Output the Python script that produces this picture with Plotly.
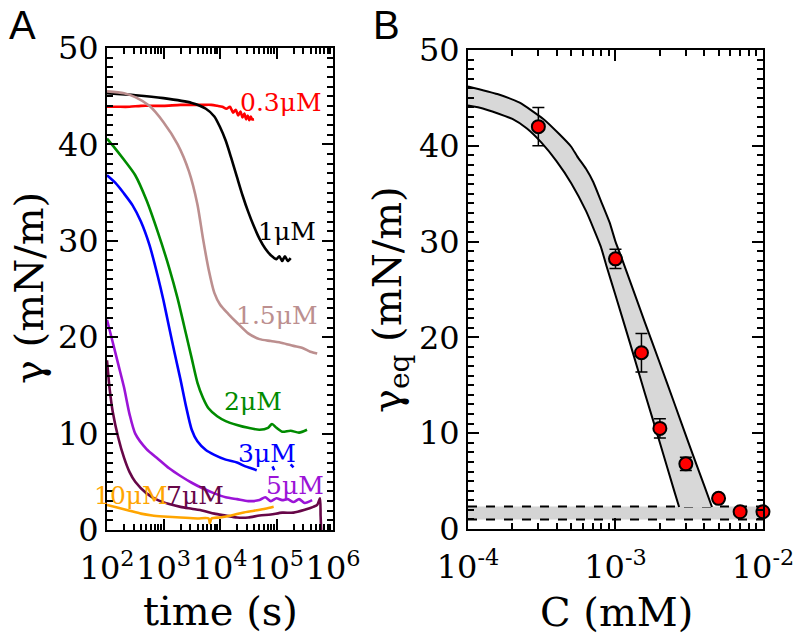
import plotly.graph_objects as go

# ---------------- Panel A data: surface tension vs time ----------------
t_03 = [100, 150, 250, 400, 700, 1000, 2000, 3000, 5000, 7000, 9000, 11000, 13000, 15000,
        17000, 19000, 21000, 23000, 25000, 27000, 29000, 31000, 33000, 35000, 37000, 40000]
g_03 = [43.9, 43.9, 43.9, 44.0, 44.0, 44.0, 44.1, 44.1, 44.1, 44.1, 44.0, 43.9, 43.7, 43.9,
        43.3, 43.6, 43.0, 43.4, 42.8, 43.2, 42.6, 43.0, 42.5, 42.9, 42.6, 42.6]

t_1 = [100, 320, 1000, 3160, 5620, 7940, 10000, 12600, 15800, 20000, 25100, 31600, 39800,
       50100, 63100, 79400, 100000, 112000, 126000, 141000, 158000, 178000]
g_1 = [45.3, 45.1, 44.8, 44.3, 43.7, 42.9, 41.8, 40.4, 38.6, 36.6, 34.7, 33.0, 31.5,
       30.2, 29.2, 28.5, 28.1, 28.4, 27.9, 28.4, 27.9, 28.2]

t_15 = [100, 200, 316, 562, 1000, 1780, 2820, 3980, 5010, 6310, 7940, 10000, 14100, 20000,
        31600, 50100, 79400, 126000, 200000, 282000, 398000, 525000]
g_15 = [45.5, 45.3, 44.9, 44.0, 42.3, 40.0, 37.2, 33.8, 30.2, 27.0, 24.6, 23.4, 22.4, 21.5,
        20.4, 19.8, 19.6, 19.4, 19.1, 18.9, 18.5, 18.3]

t_2 = [100, 126, 200, 316, 501, 794, 1260, 1780, 2510, 3160, 3980, 5010, 6310, 8910, 12600,
       20000, 31600, 50100, 70800, 83200, 100000, 126000, 178000, 251000, 347000]
g_2 = [40.6, 39.9, 38.4, 36.8, 34.2, 30.9, 27.2, 24.0, 20.3, 17.8, 15.3, 13.7, 12.6, 11.8, 11.3,
       10.9, 10.6, 10.4, 10.6, 11.0, 10.6, 10.2, 10.3, 10.1, 10.4]

t_3 = [100, 141, 200, 282, 398, 562, 794, 1000, 1260, 1580, 2000, 2510, 3160, 3980, 5620,
       7940, 12600, 20000, 28200, 35500, 44700, None, 85100, 91200, None, 178000, 200000]
g_3 = [36.8, 36.0, 34.9, 33.7, 32.0, 29.6, 26.3, 23.8, 21.0, 18.3, 15.6, 12.8, 10.4, 9.2, 8.3,
       7.8, 7.3, 7.0, 6.6, 6.4, 6.2, None, 6.6, 6.2, None, 6.8, 6.5]

t_5 = [100, 126, 158, 200, 251, 316, 501, 794, 1260, 2000, 3160, 5010, 7940, 12600, 20000,
       31600, 50100, 63100, 79400, 100000, 126000, 158000, 200000, 251000, 316000, 427000]
g_5 = [21.8, 19.5, 17.2, 14.8, 12.0, 10.0, 8.4, 7.4, 6.4, 5.6, 4.9, 4.3, 3.8, 3.4, 3.2,
       3.0, 3.1, 3.4, 3.0, 3.3, 3.1, 3.2, 2.9, 3.2, 2.8, 3.1]

t_7 = [100, 112, 126, 158, 200, 251, 316, 501, 794, 1260, 2000, 3160, 5010, 7940, 12600,
       20000, 31600, 50100, 79400, 126000, 200000, 316000, 447000, 525000, 589000, 603000, 617000]
g_7 = [17.6, 14.5, 12.3, 9.6, 7.5, 6.0, 5.0, 3.8, 3.1, 2.7, 2.4, 2.2, 2.0, 1.7, 1.5,
       1.3, 1.3, 1.5, 1.6, 1.8, 1.8, 2.1, 2.4, 2.6, 3.3, 1.5, 0.0]

t_10 = [100, 158, 251, 398, 631, 1000, 2000, 3980, 6310, 6610, 7080, 10000, 15800, 25100,
        39800, 63100, 89100]
g_10 = [2.6, 2.3, 2.0, 1.7, 1.5, 1.4, 1.3, 1.2, 1.2, 0.7, 1.2, 1.3, 1.5, 1.8, 2.0, 2.2, 2.4]

series_names = ["0.3μM", "1μM", "1.5μM", "2μM", "3μM", "5μM", "7μM", "10μM"]
series_t = [t_03, t_1, t_15, t_2, t_3, t_5, t_7, t_10]
series_g = [g_03, g_1, g_15, g_2, g_3, g_5, g_7, g_10]
series_colors = ["rgb(255,0,0)", "rgb(0,0,0)", "rgb(188,143,143)", "rgb(0,139,0)",
                 "rgb(0,0,255)", "rgb(155,20,215)", "rgb(103,7,72)", "rgb(255,165,0)"]
# label anchor (log10 time, gamma)
label_logt = [5.08, 5.19, 5.01, 4.58, 4.83, 5.33, 3.56, 2.42]
label_gamma = [44.3, 31.0, 22.3, 13.3, 7.9, 4.6, 3.6, 3.6]

# ---------------- Panel B data: equilibrium surface tension ----------------
conc = [3e-4, 1e-3, 1.5e-3, 2e-3, 3e-3, 5e-3, 7e-3, 1e-2]
gamma_eq = [42.0, 28.2, 18.4, 10.5, 6.8, 3.2, 1.8, 1.8]
gamma_err = [2.0, 1.0, 2.0, 1.0, 0.7, 0.0, 0.0, 0.0]

band_up_c = [1e-4, 1.58e-4, 2.24e-4, 3.24e-4, 4.17e-4, 5.01e-4, 5.5e-4, 6.31e-4, 7.08e-4,
             7.94e-4, 9.12e-4, 1.0e-3, 1.1e-3, 1.26e-3, 1.58e-3, 2.0e-3, 2.51e-3, 3.16e-3,
             3.98e-3, 4.51e-3]
band_up_g = [46.2, 45.4, 44.5, 42.8, 41.2, 39.9, 38.9, 37.6, 36.2, 34.3, 32.0, 30.0, 28.3,
             25.8, 21.6, 17.3, 13.1, 8.8, 4.6, 2.3]
band_lo_c = [1e-4, 1.26e-4, 1.58e-4, 2.0e-4, 2.51e-4, 3.16e-4, 3.98e-4, 5.01e-4, 6.31e-4,
             7.94e-4, 8.71e-4, 1.0e-3, 1.26e-3, 1.58e-3, 2.0e-3, 2.51e-3, 2.7e-3]
band_lo_g = [44.2, 43.9, 43.4, 42.8, 41.8, 40.3, 38.4, 36.1, 33.2, 29.5, 27.4, 24.4, 19.3,
             14.2, 9.0, 3.9, 2.3]
flat_c = [1e-4, 1e-2]
flat_hi = 2.35
flat_lo = 1.0

SERIF = "DejaVu Serif"
W, H = 799, 641


def px(x):
    return x / W


def py(y):
    return 1 - y / H


fig = go.Figure()

# Panel A curves
for name, ts, gs, col in zip(series_names, series_t, series_g, series_colors):
    fig.add_trace(go.Scatter(x=ts, y=gs, mode="lines", name=name,
                             line=dict(color=col, width=2.6, shape="spline", smoothing=0.7),
                             connectgaps=False, xaxis="x", yaxis="y", showlegend=False))

# Panel B: horizontal grey band
fig.add_trace(go.Scatter(x=[flat_c[0], flat_c[1], flat_c[1], flat_c[0]],
                         y=[flat_hi, flat_hi, flat_lo, flat_lo],
                         fill="toself", fillcolor="rgb(212,212,212)", mode="lines",
                         line=dict(width=0), xaxis="x2", yaxis="y2", showlegend=False))
for yv in (flat_hi, flat_lo):
    fig.add_trace(go.Scatter(x=flat_c, y=[yv, yv], mode="lines",
                             line=dict(color="black", width=2, dash="dash"),
                             xaxis="x2", yaxis="y2", showlegend=False))

# Panel B: Szyszkowski band
fig.add_trace(go.Scatter(x=band_up_c + band_lo_c[::-1], y=band_up_g + band_lo_g[::-1],
                         fill="toself", fillcolor="rgb(216,216,216)", mode="lines",
                         line=dict(width=0), xaxis="x2", yaxis="y2", showlegend=False))
for bc, bg in ((band_up_c, band_up_g), (band_lo_c, band_lo_g)):
    fig.add_trace(go.Scatter(x=bc, y=bg, mode="lines",
                             line=dict(color="black", width=2, shape="spline", smoothing=0.5),
                             xaxis="x2", yaxis="y2", showlegend=False))

# Panel B: data points
fig.add_trace(go.Scatter(x=conc, y=gamma_eq, mode="markers",
                         marker=dict(color="red", size=13, line=dict(color="black", width=2)),
                         error_y=dict(type="data", array=gamma_err, color="black",
                                      thickness=1.5, width=6),
                         xaxis="x2", yaxis="y2", showlegend=False, cliponaxis=False))

tickfont = dict(family=SERIF, size=32, color="black")
common = dict(showline=True, linecolor="black", linewidth=2, mirror="ticks",
              ticks="inside", ticklen=11, tickwidth=2, tickcolor="black",
              showgrid=False, zeroline=False, tickfont=tickfont, automargin=False,
              tickangle=0)

minor_a = [m * 10 ** e for e in range(2, 6) for m in range(2, 10)]
minor_b = [m * 10 ** e for e in range(-4, -2) for m in range(2, 10)]
lin_minor = dict(ticks="inside", ticklen=6, tickwidth=2, tickcolor="black", dtick=1,
                 showgrid=False)

fig.update_layout(
    template="none",
    width=W, height=H, autosize=False,
    margin=dict(l=0, r=0, t=0, b=0, pad=0),
    paper_bgcolor="white", plot_bgcolor="white",
    xaxis=dict(type="log", range=[2, 6], domain=[px(107), px(333)],
               tickvals=[1e2, 1e3, 1e4, 1e5, 1e6],
               ticktext=["10<sup>2</sup>", "10<sup>3</sup>", "10<sup>4</sup>",
                         "10<sup>5</sup>", "10<sup>6</sup>"],
               ticklabelstandoff=9,
               minor=dict(ticks="inside", ticklen=6, tickwidth=2, tickcolor="black",
                          tickvals=minor_a, showgrid=False),
               anchor="y", **common),
    yaxis=dict(range=[0, 50], domain=[py(530), py(48)],
               tickvals=[0, 10, 20, 30, 40, 50], minor=lin_minor, anchor="x", **common),
    xaxis2=dict(type="log", range=[-4, -1.9998], domain=[px(468), px(763)],
                tickvals=[1e-4, 1e-3, 1e-2],
                ticktext=["10<sup>-4</sup>", "10<sup>-3</sup>", "10<sup>-2</sup>"],
                ticklabelstandoff=9,
                minor=dict(ticks="inside", ticklen=6, tickwidth=2, tickcolor="black",
                           tickvals=minor_b, showgrid=False),
                anchor="y2", **common),
    yaxis2=dict(range=[0, 50], domain=[py(529), py(50)],
                tickvals=[0, 10, 20, 30, 40, 50], minor=lin_minor, anchor="x2", **common),
)

annotations = []
for name, lx, ly, col in zip(series_names, label_logt, label_gamma, series_colors):
    annotations.append(dict(x=lx, y=ly, xref="x", yref="y", text=name, showarrow=False,
                            xanchor="center", yanchor="middle",
                            font=dict(family=SERIF, size=25, color=col)))

titlefont = dict(family=SERIF, size=40, color="black")
letterfont = dict(family="Liberation Sans", size=40, color="black")
centered = dict(xref="paper", yref="paper", showarrow=False, xanchor="center",
                yanchor="middle")
annotations += [
    dict(x=px(220), y=py(611), text="time (s)", font=titlefont, **centered),
    dict(x=px(616), y=py(612), text="C (mM)", font=titlefont, **centered),
    dict(x=px(29), y=py(288), text="γ (mN/m)", textangle=-90, font=titlefont, **centered),
    dict(x=px(390), y=py(300), text="γ<sub>eq</sub> (mN/m)", textangle=-90,
         font=titlefont, **centered),
    dict(x=px(22), y=py(25), text="A", font=letterfont, **centered),
    dict(x=px(386), y=py(25), text="B", font=letterfont, **centered),
]
fig.update_layout(annotations=annotations)

fig.write_html("out.html", config={"displayModeBar": False},
               post_script="document.body.style.margin='0px';")
